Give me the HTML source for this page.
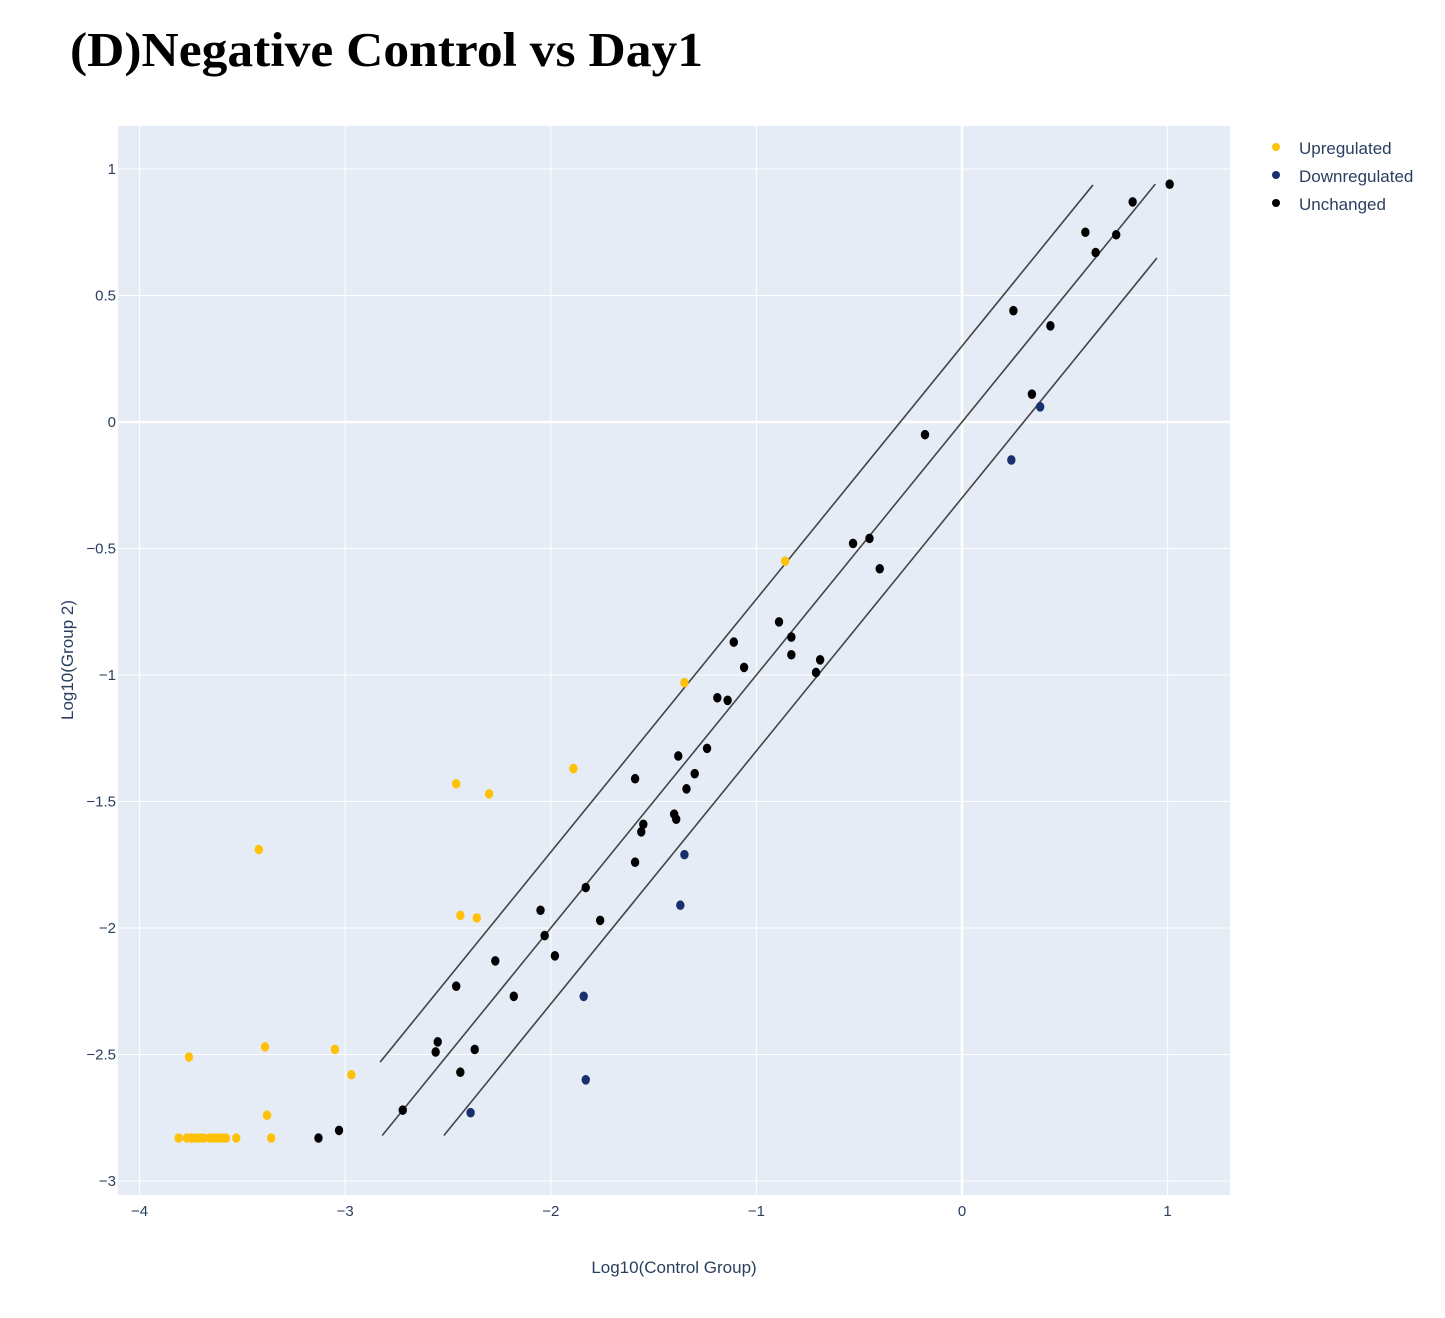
<!DOCTYPE html>
<html><head><meta charset="utf-8"><style>
body{margin:0;background:#fff;width:1445px;height:1313px;overflow:hidden}
svg text{font-family:"Liberation Sans","DejaVu Sans",sans-serif}
</style></head><body>
<svg id="chart" width="1445" height="1313" xmlns="http://www.w3.org/2000/svg">
<text x="70" y="66" textLength="633" lengthAdjust="spacingAndGlyphs" style="font-family:'Liberation Serif',serif" font-size="49" font-weight="bold" fill="#000">(D)Negative Control vs Day1</text>
<rect x="118" y="126" width="1112" height="1069" fill="#e5ecf6"/>
<g id="grid"></g><g id="lines"></g><g id="pts"></g><g id="ticks"></g>
<text x="674" y="1273" text-anchor="middle" font-size="17" fill="#2a3f5f">Log10(Control Group)</text>
<text transform="translate(73,660) rotate(-90)" text-anchor="middle" font-size="17" fill="#2a3f5f">Log10(Group 2)</text>
<g>
<g><circle cx="1276" cy="147" r="4" fill="#ffc107"/><text x="1299" y="154" font-size="17" fill="#2a3f5f">Upregulated</text></g>
<g><circle cx="1276" cy="175" r="4" fill="#1a2f6e"/><text x="1299" y="182" font-size="17" fill="#2a3f5f">Downregulated</text></g>
<g><circle cx="1276" cy="203" r="4" fill="#000"/><text x="1299" y="210" font-size="17" fill="#2a3f5f">Unchanged</text></g>
</g>
</svg>
<script>
const xTicks=[-4,-3,-2,-1,0,1];
const yTicks=[1,0.5,0,-0.5,-1,-1.5,-2,-2.5,-3];
const upX=[-3.81,-3.77,-3.75,-3.73,-3.71,-3.69,-3.66,-3.64,-3.62,-3.60,-3.58,-3.53,-3.36,-3.76,-3.42,-3.39,-3.38,-3.05,-2.97,-2.46,-2.30,-2.44,-2.36,-1.89,-1.35,-0.86];
const upY=[-2.83,-2.83,-2.83,-2.83,-2.83,-2.83,-2.83,-2.83,-2.83,-2.83,-2.83,-2.83,-2.83,-2.51,-1.69,-2.47,-2.74,-2.48,-2.58,-1.43,-1.47,-1.95,-1.96,-1.37,-1.03,-0.55];
const downX=[0.24,0.38,-1.35,-1.37,-1.84,-1.83,-2.39];
const downY=[-0.15,0.06,-1.71,-1.91,-2.27,-2.60,-2.73];
const unchX=[1.01,0.83,0.75,0.60,0.65,0.25,0.43,0.34,-0.18,-0.53,-0.45,-0.40,-0.89,-0.83,-0.83,-0.69,-0.71,-1.11,-1.06,-1.19,-1.14,-1.24,-1.38,-1.30,-1.34,-1.59,-1.40,-1.39,-1.55,-1.56,-1.59,-1.83,-1.76,-2.05,-2.03,-1.98,-2.27,-2.18,-2.46,-2.55,-2.56,-2.37,-2.44,-2.72,-3.03,-3.13];
const unchY=[0.94,0.87,0.74,0.75,0.67,0.44,0.38,0.11,-0.05,-0.48,-0.46,-0.58,-0.79,-0.85,-0.92,-0.94,-0.99,-0.87,-0.97,-1.09,-1.10,-1.29,-1.32,-1.39,-1.45,-1.41,-1.55,-1.57,-1.59,-1.62,-1.74,-1.84,-1.97,-1.93,-2.03,-2.11,-2.13,-2.27,-2.23,-2.45,-2.49,-2.48,-2.57,-2.72,-2.80,-2.83];
const refOffsets=[0.3,0,-0.3];
const refStart=[-2.83,-2.82,-2.52];
const refEnd=[0.637,0.94,0.948];
const sx=v=>962+v*205.6, sy=v=>422-v*253;
const NS='http://www.w3.org/2000/svg';
function mk(p,t,a){const e=document.createElementNS(NS,t);for(const k in a)e.setAttribute(k,a[k]);document.getElementById(p).appendChild(e);return e;}
xTicks.forEach(t=>{const g=mk('grid','line',{x1:sx(t),x2:sx(t),y1:126,y2:1195,stroke:'#fff','stroke-width':t===0?2.5:1});


const l=mk('ticks','text',{x:sx(t),y:1216,'text-anchor':'middle','font-size':15,fill:'#2a3f5f'});l.textContent=t<0?'\u2212'+(-t):t;

});
yTicks.forEach(t=>{const g=mk('grid','line',{x1:118,x2:1230,y1:sy(t),y2:sy(t),stroke:'#fff','stroke-width':t===0?2.5:1});


const l=mk('ticks','text',{x:116,y:sy(t)+5,'text-anchor':'end','font-size':15,fill:'#2a3f5f'});l.textContent=t<0?'\u2212'+(-t):t;

});
refOffsets.forEach((o,i)=>{const e=mk('lines','line',{x1:sx(refStart[i]),y1:sy(refStart[i]+o),x2:sx(refEnd[i]),y2:sy(refEnd[i]+o),stroke:'#444','stroke-width':1.6});

});
function pts(X,Y,c,n){X.forEach((x,i)=>{const e=mk('pts','ellipse',{cx:sx(x),cy:sy(Y[i]),rx:4.2,ry:4.8,fill:c});

});}
pts(upX,upY,'#ffc107','upregulated-point');
pts(downX,downY,'#1a2f6e','downregulated-point');
pts(unchX,unchY,'#000','unchanged-point');
</script>
</body></html>
